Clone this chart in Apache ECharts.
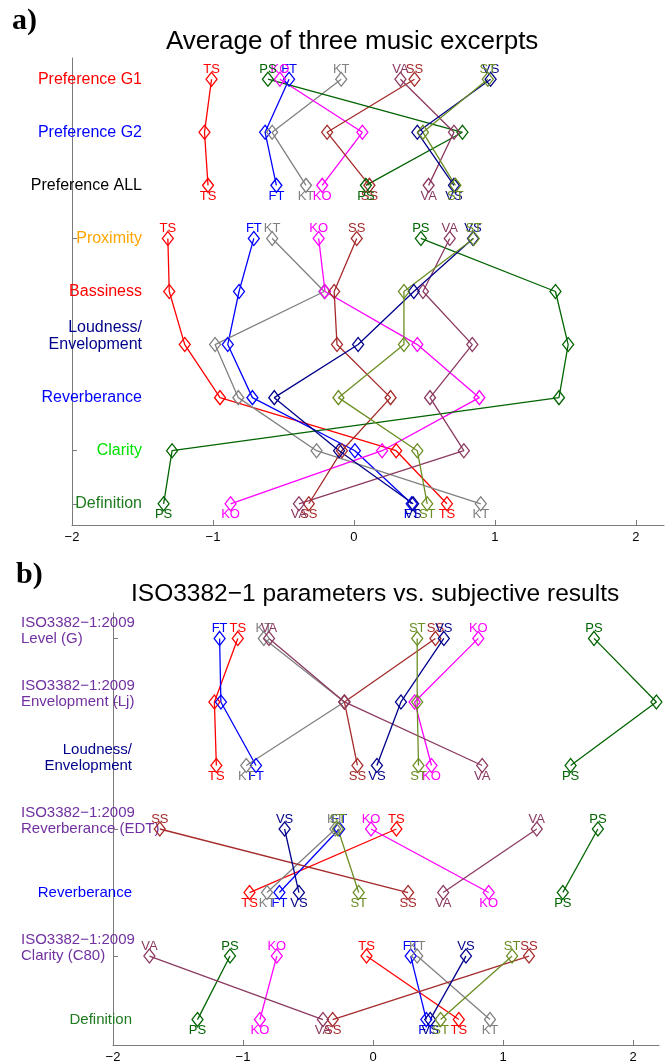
<!DOCTYPE html>
<html>
<head>
<meta charset="utf-8">
<script src="https://cdn.jsdelivr.net/npm/echarts@6/dist/echarts.min.js"></script>
<style>
  html, body { margin: 0; padding: 0; background: #fff; }
  #chart { width: 667px; height: 1063px; }
</style>
</head>
<body>
<div id="chart"></div>
<script>
// music excerpts (series)
const music = ['TS', 'FT', 'KT', 'KO', 'SS', 'PS', 'VA', 'VS', 'ST'];

// panel a) rows, top to bottom
const rowsA = ['Preference G1', 'Preference G2', 'Preference ALL', 'Proximity', 'Bassiness',
  'Loudness/\nEnvelopment', 'Reverberance', 'Clarity', 'Definition'];
const groupsA = [[0, 1, 2], [3, 4, 5, 6, 7, 8]];
const a_TS = [-1.01, -1.06, -1.035, -1.32, -1.31, -1.2, -0.95, 0.30, 0.66];
const a_FT = [-0.46, -0.63, -0.55, -0.71, -0.815, -0.895, -0.72, 0.007, 0.41];
const a_KT = [-0.09, -0.58, -0.34, -0.58, -0.21, -0.985, -0.82, -0.265, 0.90];
const a_KO = [-0.525, 0.06, -0.225, -0.25, -0.205, 0.45, 0.89, 0.20, -0.875];
const a_SS = [0.43, -0.19, 0.11, 0.02, -0.14, -0.12, 0.26, -0.085, -0.32];
const a_PS = [-0.61, 0.77, 0.085, 0.475, 1.43, 1.52, 1.455, -1.29, -1.35];
const a_VA = [0.33, 0.71, 0.53, 0.68, 0.49, 0.84, 0.54, 0.78, -0.39];
const a_VS = [0.97, 0.45, 0.71, 0.845, 0.425, 0.03, -0.565, -0.105, 0.42];
const a_ST = [0.95, 0.49, 0.72, 0.85, 0.355, 0.355, -0.11, 0.45, 0.52];

// panel b) rows, top to bottom
const rowsB = ['ISO3382\u22121:2009\nLevel (G)', 'ISO3382\u22121:2009\nEnvelopment (Lj)', 'Loudness/\nEnvelopment',
  'ISO3382\u22121:2009\nReverberance (EDT)', 'Reverberance', 'ISO3382\u22121:2009\nClarity (C80)', 'Definition'];
const groupsB = [[0, 1, 2], [3, 4], [5, 6]];
const b_TS = [-1.04, -1.22, -1.205, 0.18, -0.95, -0.05, 0.66];
const b_FT = [-1.18, -1.17, -0.90, -0.26, -0.72, 0.29, 0.41];
const b_KT = [-0.84, -0.22, -0.975, -0.29, -0.815, 0.34, 0.90];
const b_KO = [0.81, 0.32, 0.45, -0.015, 0.89, -0.74, -0.87];
const b_SS = [0.48, -0.22, -0.12, -1.64, 0.27, 1.20, -0.31];
const b_PS = [1.70, 2.18, 1.52, 1.73, 1.46, -1.10, -1.35];
const b_VA = [-0.80, -0.22, 0.84, 1.26, 0.54, -1.72, -0.385];
const b_VS = [0.545, 0.215, 0.03, -0.68, -0.57, 0.715, 0.44];
const b_ST = [0.34, 0.34, 0.35, -0.27, -0.11, 1.07, 0.52];

const xTicks = [-2, -1, 0, 1, 2];

// styling
const colors = {
  TS: '#ff0000', FT: '#0000ff', KT: '#808080', KO: '#ff00ff', SS: '#a52a2a',
  PS: '#006400', VA: '#8b3a62', VS: '#00008b', ST: '#6b8e23'
};
const rowColorsA = ['#ff0000', '#0000ff', '#000000', '#ffa500', '#ff0000', '#00008b', '#0000ff', '#00e000', '#1e7a1e'];
const rowColorsB = ['#7030a0', '#7030a0', '#00008b', '#7030a0', '#0000ff', '#7030a0', '#1e7a1e'];
const sans = 'Liberation Sans, Arial, Helvetica, sans-serif';
const axisGray = '#7a7a7a';

const valsA = { TS: a_TS, FT: a_FT, KT: a_KT, KO: a_KO, SS: a_SS, PS: a_PS, VA: a_VA, VS: a_VS, ST: a_ST };
const valsB = { TS: b_TS, FT: b_FT, KT: b_KT, KO: b_KO, SS: b_SS, PS: b_PS, VA: b_VA, VS: b_VS, ST: b_ST };

function minus(v) {
  v = Number(v);
  return v < 0 ? '\u2212' + (-v) : String(v);
}

// one line per music per group of rows, labels on first and last diamond
function buildSeries(vals, rows, groups, axisIdx) {
  const n = rows.length;
  const out = [];
  music.forEach(function (m) {
    const c = colors[m];
    groups.forEach(function (g) {
      out.push({
        type: 'line',
        name: m,
        xAxisIndex: axisIdx,
        yAxisIndex: axisIdx,
        symbol: 'diamond',
        symbolSize: [11, 14],
        showAllSymbol: true,
        lineStyle: { color: c, width: 1.3 },
        itemStyle: { color: 'rgba(255,255,255,0)', borderColor: c, borderWidth: 1.3 },
        label: { show: false, position: 'inside', color: c, fontSize: 13, fontFamily: sans, formatter: m },
        emphasis: { disabled: true },
        data: g.map(function (r, k) {
          const item = { value: [vals[m][r], n - r] };
          if (k === 0) item.label = { show: true, offset: [0, -10] };
          else if (k === g.length - 1) item.label = { show: true, offset: [0, 11] };
          return item;
        })
      });
    });
  });
  return out;
}

function xAxis(gridIndex) {
  return {
    gridIndex: gridIndex, type: 'value', min: -2, max: 2.2, interval: 1,
    axisLine: { show: true, onZero: false, lineStyle: { color: axisGray, width: 1 } },
    axisTick: { show: true, inside: true, length: 5, customValues: xTicks, lineStyle: { color: axisGray } },
    axisLabel: { customValues: xTicks, formatter: minus, color: '#000', fontSize: 13, fontFamily: sans, margin: 6 },
    splitLine: { show: false }
  };
}

const nA = rowsA.length, nB = rowsB.length;
const rowValsA = rowsA.map(function (r, i) { return nA - i; });
const rightRowsB = [2, 4, 6].map(function (i) { return nB - i; });
const isoRowsB = [0, 1, 3, 5].map(function (i) { return nB - i; });

function rowText(rows, n, v) {
  const t = rows[n - Number(v)];
  return t.indexOf('\n') >= 0 ? t + '\n' : t;
}

const chart = echarts.init(document.getElementById('chart'));
chart.setOption({
  animation: false,
  backgroundColor: '#fff',
  title: [
    { text: 'a)', left: 12, top: 6, padding: 0,
      textStyle: { fontFamily: 'Liberation Serif, Times New Roman, serif', fontWeight: 'bold', fontSize: 30, color: '#000' } },
    { text: 'Average of three music excerpts', left: 166, top: 29, padding: 0,
      textStyle: { fontFamily: sans, fontWeight: 'normal', fontSize: 26, color: '#000' } },
    { text: 'b)', left: 16, top: 560, padding: 0,
      textStyle: { fontFamily: 'Liberation Serif, Times New Roman, serif', fontWeight: 'bold', fontSize: 30, color: '#000' } },
    { text: 'ISO3382\u22121 parameters vs. subjective results', left: 131, top: 582, padding: 0,
      textStyle: { fontFamily: sans, fontWeight: 'normal', fontSize: 24.5, color: '#000' } }
  ],
  grid: [
    { left: 72, top: 58, right: 3, height: 467, containLabel: false, outerBoundsMode: 'none' },
    { left: 113, top: 613, right: 8, height: 432, containLabel: false, outerBoundsMode: 'none' }
  ],
  xAxis: [xAxis(0), xAxis(1)],
  yAxis: [
    {
      gridIndex: 0, type: 'value', min: 0.6, max: 9.4, position: 'left',
      axisLine: { show: true, onZero: false, lineStyle: { color: axisGray, width: 1 } },
      axisTick: { show: true, inside: true, length: 5, customValues: [6, 2, 1], lineStyle: { color: axisGray } },
      axisLabel: {
        customValues: rowValsA, margin: -70, align: 'right', fontSize: 16, lineHeight: 17, fontFamily: sans,
        formatter: function (v) { return rowText(rowsA, nA, v); },
        color: function (v) { return rowColorsA[nA - Number(v)]; }
      },
      splitLine: { show: false }
    },
    {
      gridIndex: 1, type: 'value', min: 0.6, max: 7.4, position: 'left',
      axisLine: { show: true, onZero: false, lineStyle: { color: axisGray, width: 1 } },
      axisTick: { show: true, inside: true, length: 5, customValues: isoRowsB, lineStyle: { color: axisGray } },
      axisLabel: {
        customValues: rightRowsB, margin: -19, align: 'right', fontSize: 15, lineHeight: 16, fontFamily: sans,
        formatter: function (v) { return rowText(rowsB, nB, v); },
        color: function (v) { return rowColorsB[nB - Number(v)]; }
      },
      splitLine: { show: false }
    },
    {
      gridIndex: 1, type: 'value', min: 0.6, max: 7.4, position: 'left', offset: 0,
      axisLine: { show: false, onZero: false },
      axisTick: { show: false },
      axisLabel: {
        customValues: isoRowsB, margin: 92, align: 'left', fontSize: 15, lineHeight: 16, fontFamily: sans,
        formatter: function (v) { return rowText(rowsB, nB, v); },
        color: function (v) { return rowColorsB[nB - Number(v)]; }
      },
      splitLine: { show: false }
    }
  ],
  series: buildSeries(valsA, rowsA, groupsA, 0).concat(buildSeries(valsB, rowsB, groupsB, 1))
});
</script>
</body>
</html>
